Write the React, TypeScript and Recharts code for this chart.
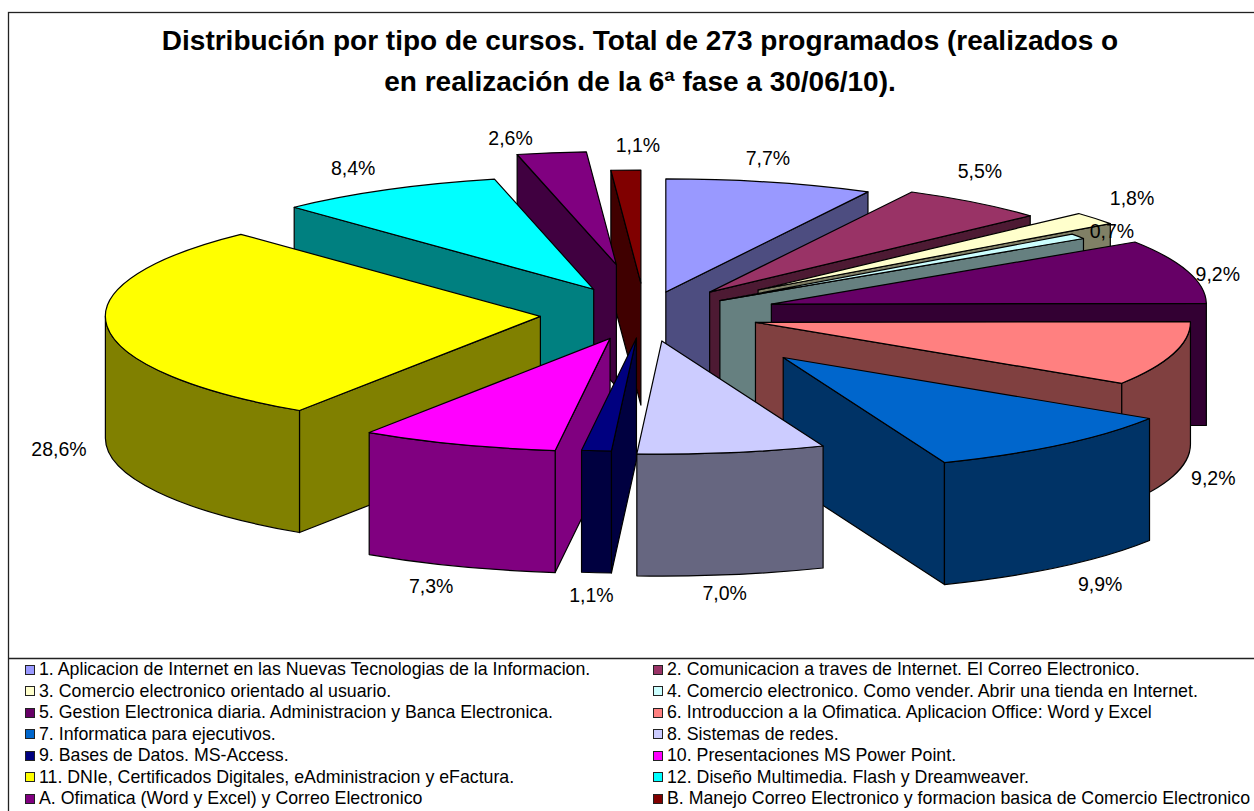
import React from 'react';
import { PieChart, Pie, Legend } from 'recharts';

const TITLE_LINES = [
  'Distribución por tipo de cursos. Total de 273 programados (realizados o',
  'en realización de la 6ª fase a 30/06/10).',
];

const COURSE_NAMES = [
  '1. Aplicacion de Internet en las Nuevas Tecnologias de la Informacion.',
  '2. Comunicacion a traves de Internet. El Correo Electronico.',
  '3. Comercio electronico orientado al usuario.',
  '4. Comercio electronico. Como vender. Abrir una tienda en Internet.',
  '5. Gestion Electronica diaria. Administracion y Banca Electronica.',
  '6. Introduccion a la Ofimatica. Aplicacion Office: Word y Excel',
  '7. Informatica para ejecutivos.',
  '8. Sistemas de redes.',
  '9. Bases de Datos. MS-Access.',
  '10. Presentaciones MS Power Point.',
  '11. DNIe, Certificados Digitales, eAdministracion y eFactura.',
  '12. Diseño Multimedia. Flash y Dreamweaver.',
  'A. Ofimatica (Word y Excel) y Correo Electronico',
  'B. Manejo Correo Electronico y formacion basica de Comercio Electronico',
];

// course counts, they add up to the 273 of the title
const COURSE_COUNTS = [21, 15, 5, 2, 25, 25, 27, 19, 3, 20, 78, 23, 7, 3];

const SLICE_COLORS = [
  '#9999FF', '#993366', '#FFFFCC', '#CCFFFF', '#660066', '#FF8080', '#0066CC',
  '#CCCCFF', '#000080', '#FF00FF', '#FFFF00', '#00FFFF', '#800080', '#800000',
];

// how far each slice is pulled out of the pie
const EXPLODE = [87, 106, 146, 91, 132, 115, 217, 105, 93, 100, 105, 108, 192, 119];

// label shift from the middle of the rim
const LABEL_SHIFT = [
  [-2, -24], [5, -32], [37, -20], [34, -5], [30, 3], [40, 2], [40, 17],
  [-7, 18], [-5, 22], [-27, 20], [-48, 1], [-34, -22], [-41, -15], [12, -25],
];

const WIDTH = 1254;
const HEIGHT = 811;
const CX = 645;
const CY = 314;
const RADIUS = 435;
const SQUASH = 0.26;
const DEPTH = 122;
const FONT = '"Liberation Sans", Arial, sans-serif';

const TOTAL = COURSE_COUNTS.reduce((a, b) => a + b, 0);

const rows = COURSE_NAMES.map((name, i) => ({
  name,
  value: COURSE_COUNTS[i],
  fill: SLICE_COLORS[i],
  explode: EXPLODE[i],
  shift: LABEL_SHIFT[i],
}));

// painted back to front: right half from the top going clockwise, left half from the top going the other way
const rightRows = rows.slice(0, 8);
const leftRows = rows.slice(8).reverse();
const sumOf = (list: typeof rows) => list.reduce((a, r) => a + r.value, 0);

const darken = (hex: string) => {
  const n = parseInt(hex.slice(1), 16);
  const part = (v: number) => Math.round(v / 2).toString(16).padStart(2, '0');
  return `#${part((n >> 16) & 255)}${part((n >> 8) & 255)}${part(n & 255)}`;
};

const rad = (deg: number) => (deg * Math.PI) / 180;

const Slice3D = (props: any) => {
  const { cx, cy, outerRadius, startAngle, endAngle, payload } = props;
  const sweep = Math.abs(startAngle - endAngle);
  const t1 = (90 - Math.max(startAngle, endAngle) + 720) % 360;
  const t2 = t1 + sweep;
  const ry = outerRadius * SQUASH;
  const ax = cx + payload.explode * Math.sin(rad((t1 + t2) / 2));
  const ay = cy - payload.explode * SQUASH * Math.cos(rad((t1 + t2) / 2));
  const px = (t: number) => ax + outerRadius * Math.sin(rad(t));
  const py = (t: number) => ay - ry * Math.cos(rad(t));
  const side = darken(payload.fill);
  const line = { stroke: '#000', strokeWidth: 1.2, strokeLinejoin: 'round' as const };

  const wall = (t: number) =>
    `M${ax},${ay} L${px(t)},${py(t)} L${px(t)},${py(t) + DEPTH} L${ax},${ay + DEPTH} Z`;

  const startVisible = Math.sin(rad(t1)) < 0;
  const endVisible = Math.sin(rad(t2)) > 0;

  const a = Math.max(t1, 90);
  const b = Math.min(t2, 270);

  return (
    <g>
      {startVisible && <path d={wall(t1)} fill={side} {...line} />}
      {endVisible && <path d={wall(t2)} fill={side} {...line} />}
      {b > a && (
        <path
          d={`M${px(a)},${py(a)} A${outerRadius},${ry} 0 0 1 ${px(b)},${py(b)} L${px(b)},${py(b) + DEPTH} A${outerRadius},${ry} 0 0 0 ${px(a)},${py(a) + DEPTH} Z`}
          fill={side}
          {...line}
        />
      )}
      <path
        d={`M${ax},${ay} L${px(t1)},${py(t1)} A${outerRadius},${ry} 0 0 1 ${px(t2)},${py(t2)} Z`}
        fill={payload.fill}
        {...line}
      />
    </g>
  );
};

const SliceLabel = (props: any) => {
  const { cx, cy, outerRadius, midAngle, payload } = props;
  const t = 90 - midAngle;
  const reach = outerRadius + payload.explode;
  const onFront = Math.cos(rad(t)) < 0;
  const x = cx + reach * Math.sin(rad(t)) + payload.shift[0];
  const y = cy - reach * SQUASH * Math.cos(rad(t)) + (onFront ? DEPTH : 0) + payload.shift[1];
  const text = `${((payload.value / TOTAL) * 100).toFixed(1).replace('.', ',')}%`;
  return (
    <text x={x} y={y} textAnchor="middle" dominantBaseline="central" fontFamily={FONT} fontSize={19.5} fill="#000">
      {text}
    </text>
  );
};

const CourseLegend = () => (
  <div
    style={{
      display: 'grid',
      gridTemplateColumns: '628px 600px',
      gridAutoRows: '21.5px',
      fontFamily: FONT,
      fontSize: 17.75,
      color: '#000',
      whiteSpace: 'nowrap',
    }}
  >
    {rows.map((r) => (
      <div key={r.name} style={{ display: 'flex', alignItems: 'center', height: 21.5 }}>
        <span
          style={{
            display: 'inline-block',
            width: 8,
            height: 8,
            background: r.fill,
            border: '1px solid #222',
            marginRight: 4,
          }}
        />
        <span>{r.name}</span>
      </div>
    ))}
  </div>
);

export default function App() {
  return (
    <div style={{ position: 'absolute', left: 0, top: 0, width: WIDTH, height: HEIGHT, background: '#fff', overflow: 'hidden' }}>
      <PieChart width={WIDTH} height={HEIGHT} margin={{ top: 0, right: 0, bottom: 0, left: 0 }}>
        <rect x={8.5} y={12.5} width={1300} height={900} fill="#fff" stroke="#222" strokeWidth={1.3} />
        <line x1={8.5} y1={658.5} x2={WIDTH} y2={658.5} stroke="#222" strokeWidth={1.3} />
        {TITLE_LINES.map((t, i) => (
          <text key={t} x={640} y={50 + i * 41} textAnchor="middle" fontFamily={FONT} fontWeight="bold" fontSize={28} fill="#000">
            {t}
          </text>
        ))}
        <Pie
          data={leftRows}
          dataKey="value"
          nameKey="name"
          cx={CX}
          cy={CY}
          innerRadius={0}
          outerRadius={RADIUS}
          startAngle={90}
          endAngle={90 + (sumOf(leftRows) / TOTAL) * 360}
          shape={Slice3D}
          label={SliceLabel}
          labelLine={false}
          isAnimationActive={false}
        />
        <Pie
          data={rightRows}
          dataKey="value"
          nameKey="name"
          cx={CX}
          cy={CY}
          innerRadius={0}
          outerRadius={RADIUS}
          startAngle={90}
          endAngle={90 - (sumOf(rightRows) / TOTAL) * 360}
          shape={Slice3D}
          label={SliceLabel}
          labelLine={false}
          isAnimationActive={false}
        />
        <Legend content={<CourseLegend />} wrapperStyle={{ position: 'absolute', left: 25, top: 659, width: 1229, bottom: 'auto' }} />
      </PieChart>
    </div>
  );
}
